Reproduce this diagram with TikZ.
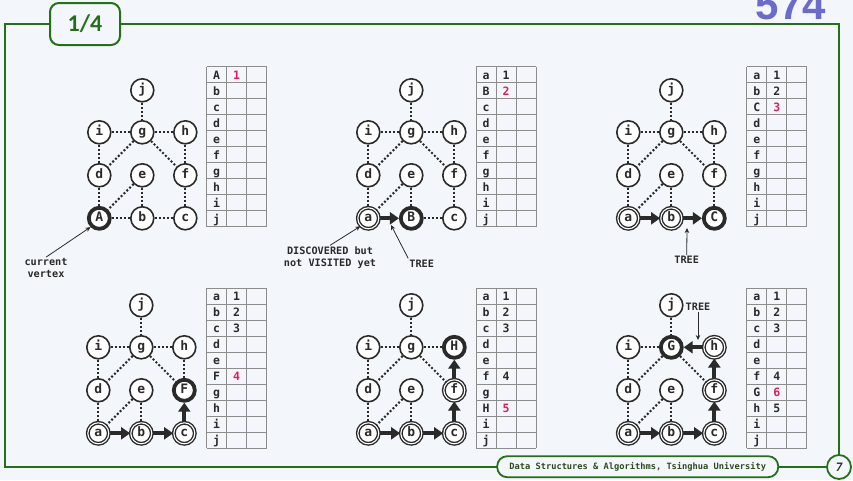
\documentclass[tikz,border=0pt]{standalone}
\usepackage{fontspec}
\usepackage{tikz}
\usetikzlibrary{arrows.meta}

\newfontfamily\mono{DejaVu Sans Mono}
\newfontfamily\calib{Carlito}
\newfontfamily\arial{Liberation Sans}

\definecolor{paper}{HTML}{F3F7FC}
\definecolor{leaf}{RGB}{35,112,25}
\definecolor{ink}{HTML}{2A2A2A}
\definecolor{cellgray}{HTML}{8C8C8C}
\definecolor{hot}{HTML}{E8185E}
\definecolor{slidenum}{HTML}{6B6BCC}
\definecolor{foottext}{HTML}{2E4A1E}

\newcommand{\fresh}[1]{\textcolor{hot}{#1}}

% places of the ten vertices, vertex a at (#2,#3)
\newcommand{\spots}[3]{%
	\foreach \n/\x/\y in {a/0/0,b/43/0,c/86/0,d/0/43,e/43/43,f/86/43,i/0/86,g/43/86,h/86/86,j/43/128}
		\coordinate (#1-\n) at (#2+\x,#3-\y);
}

% table: name, top left corner, rows
\newcommand{\vtable}[4]{%
	\foreach \k in {0,...,10} \draw[cellrule] (#2,#3+16*\k) -- (#2+60,#3+16*\k);
	\foreach \k in {0,...,3} \draw[cellrule] (#2+20*\k,#3) -- (#2+20*\k,#3+160);
	\foreach \l/\v [count=\k] in {#4}{
		\node[cell] (#1l\k) at (#2+10,#3+16*\k-3.5) {\l};
		\node[cell] (#1v\k) at (#2+30,#3+16*\k-3.5) {\v};
	}
}

\tikzset{
	vtx/.style={circle, draw=ink, fill=white, line width=1.6pt, minimum size=23pt, inner sep=0pt,
		text=ink, font=\mono\bfseries\fontsize{13}{13}\selectfont, text height=9.5pt, text depth=2.5pt},
	cur/.style={line width=3.8pt, minimum size=21pt},
	seen/.style={double=white, double distance=1.1pt, line width=1.4pt, minimum size=21pt},
	dots/.style={draw=ink, line width=2pt, dash pattern=on 2pt off 2pt},
	tree/.style={draw=ink, line width=4pt, -{Triangle[length=9pt,width=12pt]}},
	note/.style={draw=ink, line width=0.8pt, -{Stealth[length=5pt,width=4.5pt]}},
	tag/.style={font=\mono\bfseries\fontsize{10.2}{12}\selectfont, text=ink, align=center, inner sep=1pt},
	cell/.style={font=\mono\bfseries\fontsize{11.5}{11.5}\selectfont, text=ink, anchor=base, inner sep=0pt},
	cellrule/.style={draw=cellgray, line width=1pt},
	titlebox/.style={draw=leaf, line width=2pt, fill=paper, rounded corners=9pt, minimum width=70pt,
		minimum height=42pt, text=leaf, font=\calib\bfseries\fontsize{24}{24}\selectfont},
	footbox/.style={draw=leaf, line width=1.8pt, fill=paper, rounded corners=10pt, minimum width=281pt,
		minimum height=21pt, text=foottext, font=\mono\bfseries\fontsize{8.7}{9}\selectfont},
	pagebox/.style={circle, draw=leaf, line width=1.8pt, fill=paper, minimum size=24pt, inner sep=0pt,
		text=ink, font=\calib\bfseries\itshape\fontsize{13}{13}\selectfont}
}

\begin{document}
\begin{tikzpicture}[x=1pt,y=-1pt]
	\useasboundingbox (0,0) rectangle (853,480);
	\fill[paper] (0,0) rectangle (853,480);
	
	\node[anchor=base, text=slidenum, font=\arial\bfseries\fontsize{42}{42}\selectfont] (slideno) at (791,19) {574};
	\draw[leaf, line width=2pt] (5,24) rectangle (839,467);
	\node[titlebox] (title) at (85,24) {1/4};
	\node[footbox] (foot) at (637.7,466.7) {Data Structures \& Algorithms, Tsinghua University};
	\node[pagebox] (page) at (839,467) {7};
	
	% panel 1
	\spots{p1}{99.3}{218.3}
	\foreach \n in {b,c,d,e,f,g,h,i,j} \node[vtx] (p1\n) at (p1-\n) {\n};
	\node[vtx,cur] (p1a) at (p1-a) {A};
	\foreach \u/\v in {j/g,i/g,i/d,g/d,g/f,d/a,e/a,e/b,a/b,b/c,f/c,h/f,g/h} \draw[dots] (p1\u) -- (p1\v);
	\vtable{t1}{206.7}{66.7}{A/\fresh{1},b/{},c/{},d/{},e/{},f/{},g/{},h/{},i/{},j/{}}
	\node[tag] (cv) at (46,268) {current\\vertex};
	\draw[note] (cv.north) -- (p1a.south west);
	
	% panel 2
	\spots{p2}{368.3}{218.3}
	\foreach \n in {c,d,e,f,g,h,i,j} \node[vtx] (p2\n) at (p2-\n) {\n};
	\node[vtx,seen] (p2a) at (p2-a) {a};
	\node[vtx,cur] (p2b) at (p2-b) {B};
	\foreach \u/\v in {j/g,i/g,i/d,g/d,g/f,d/a,e/a,e/b,b/c,f/c,h/f,g/h} \draw[dots] (p2\u) -- (p2\v);
	\draw[tree] (p2a) -- (p2b);
	\vtable{t2}{476}{66.7}{a/1,B/\fresh{2},c/{},d/{},e/{},f/{},g/{},h/{},i/{},j/{}}
	\node[tag] (dv) at (330,257.5) {DISCOVERED but\\not VISITED yet};
	\draw[note] (dv.north) -- (p2a.south west);
	\node[tag] (tr2) at (421.7,263.3) {TREE};
	\coordinate (tr2end) at (391,225);
	\draw[note] (tr2.north west) -- (tr2end);
	
	% panel 3
	\spots{p3}{628.3}{218.3}
	\foreach \n in {d,e,f,g,h,i,j} \node[vtx] (p3\n) at (p3-\n) {\n};
	\foreach \n in {a,b} \node[vtx,seen] (p3\n) at (p3-\n) {\n};
	\node[vtx,cur] (p3c) at (p3-c) {C};
	\foreach \u/\v in {j/g,i/g,i/d,g/d,g/f,d/a,e/a,e/b,f/c,h/f,g/h} \draw[dots] (p3\u) -- (p3\v);
	\draw[tree] (p3a) -- (p3b);
	\draw[tree] (p3b) -- (p3c);
	\vtable{t3}{746.7}{66.7}{a/1,b/2,C/\fresh{3},d/{},e/{},f/{},g/{},h/{},i/{},j/{}}
	\node[tag] (tr3) at (686.7,260) {TREE};
	\coordinate (tr3end) at (687,228);
	\draw[note] (tr3.north) -- (tr3end);
	
	% panel 4
	\spots{p4}{98.3}{433.3}
	\foreach \n in {d,e,g,h,i,j} \node[vtx] (p4\n) at (p4-\n) {\n};
	\foreach \n in {a,b,c} \node[vtx,seen] (p4\n) at (p4-\n) {\n};
	\node[vtx,cur] (p4f) at (p4-f) {F};
	\foreach \u/\v in {j/g,i/g,i/d,g/d,g/f,d/a,e/a,e/b,h/f,g/h} \draw[dots] (p4\u) -- (p4\v);
	\foreach \u/\v in {a/b,b/c,c/f} \draw[tree] (p4\u) -- (p4\v);
	\vtable{t4}{206.7}{288.3}{a/1,b/2,c/3,d/{},e/{},F/\fresh{4},g/{},h/{},i/{},j/{}}
	
	% panel 5
	\spots{p5}{368.3}{433.3}
	\foreach \n in {d,e,g,i,j} \node[vtx] (p5\n) at (p5-\n) {\n};
	\foreach \n in {a,b,c,f} \node[vtx,seen] (p5\n) at (p5-\n) {\n};
	\node[vtx,cur] (p5h) at (p5-h) {H};
	\foreach \u/\v in {j/g,i/g,i/d,g/d,g/f,d/a,e/a,e/b,g/h} \draw[dots] (p5\u) -- (p5\v);
	\foreach \u/\v in {a/b,b/c,c/f,f/h} \draw[tree] (p5\u) -- (p5\v);
	\vtable{t5}{476}{288.3}{a/1,b/2,c/3,d/{},e/{},f/4,g/{},H/\fresh{5},i/{},j/{}}
	
	% panel 6
	\spots{p6}{628.3}{433.3}
	\foreach \n in {d,e,i,j} \node[vtx] (p6\n) at (p6-\n) {\n};
	\foreach \n in {a,b,c,f,h} \node[vtx,seen] (p6\n) at (p6-\n) {\n};
	\node[vtx,cur] (p6g) at (p6-g) {G};
	\foreach \u/\v in {j/g,i/g,i/d,g/d,g/f,d/a,e/a,e/b} \draw[dots] (p6\u) -- (p6\v);
	\foreach \u/\v in {a/b,b/c,c/f,f/h,h/g} \draw[tree] (p6\u) -- (p6\v);
	\vtable{t6}{746.7}{288.3}{a/1,b/2,c/3,d/{},e/{},f/4,G/\fresh{6},h/5,i/{},j/{}}
	\node[tag] (tr6) at (698,306.7) {TREE};
	\coordinate (tr6end) at (698,340);
	\draw[note] (tr6.south) -- (tr6end);
\end{tikzpicture}
\end{document}
